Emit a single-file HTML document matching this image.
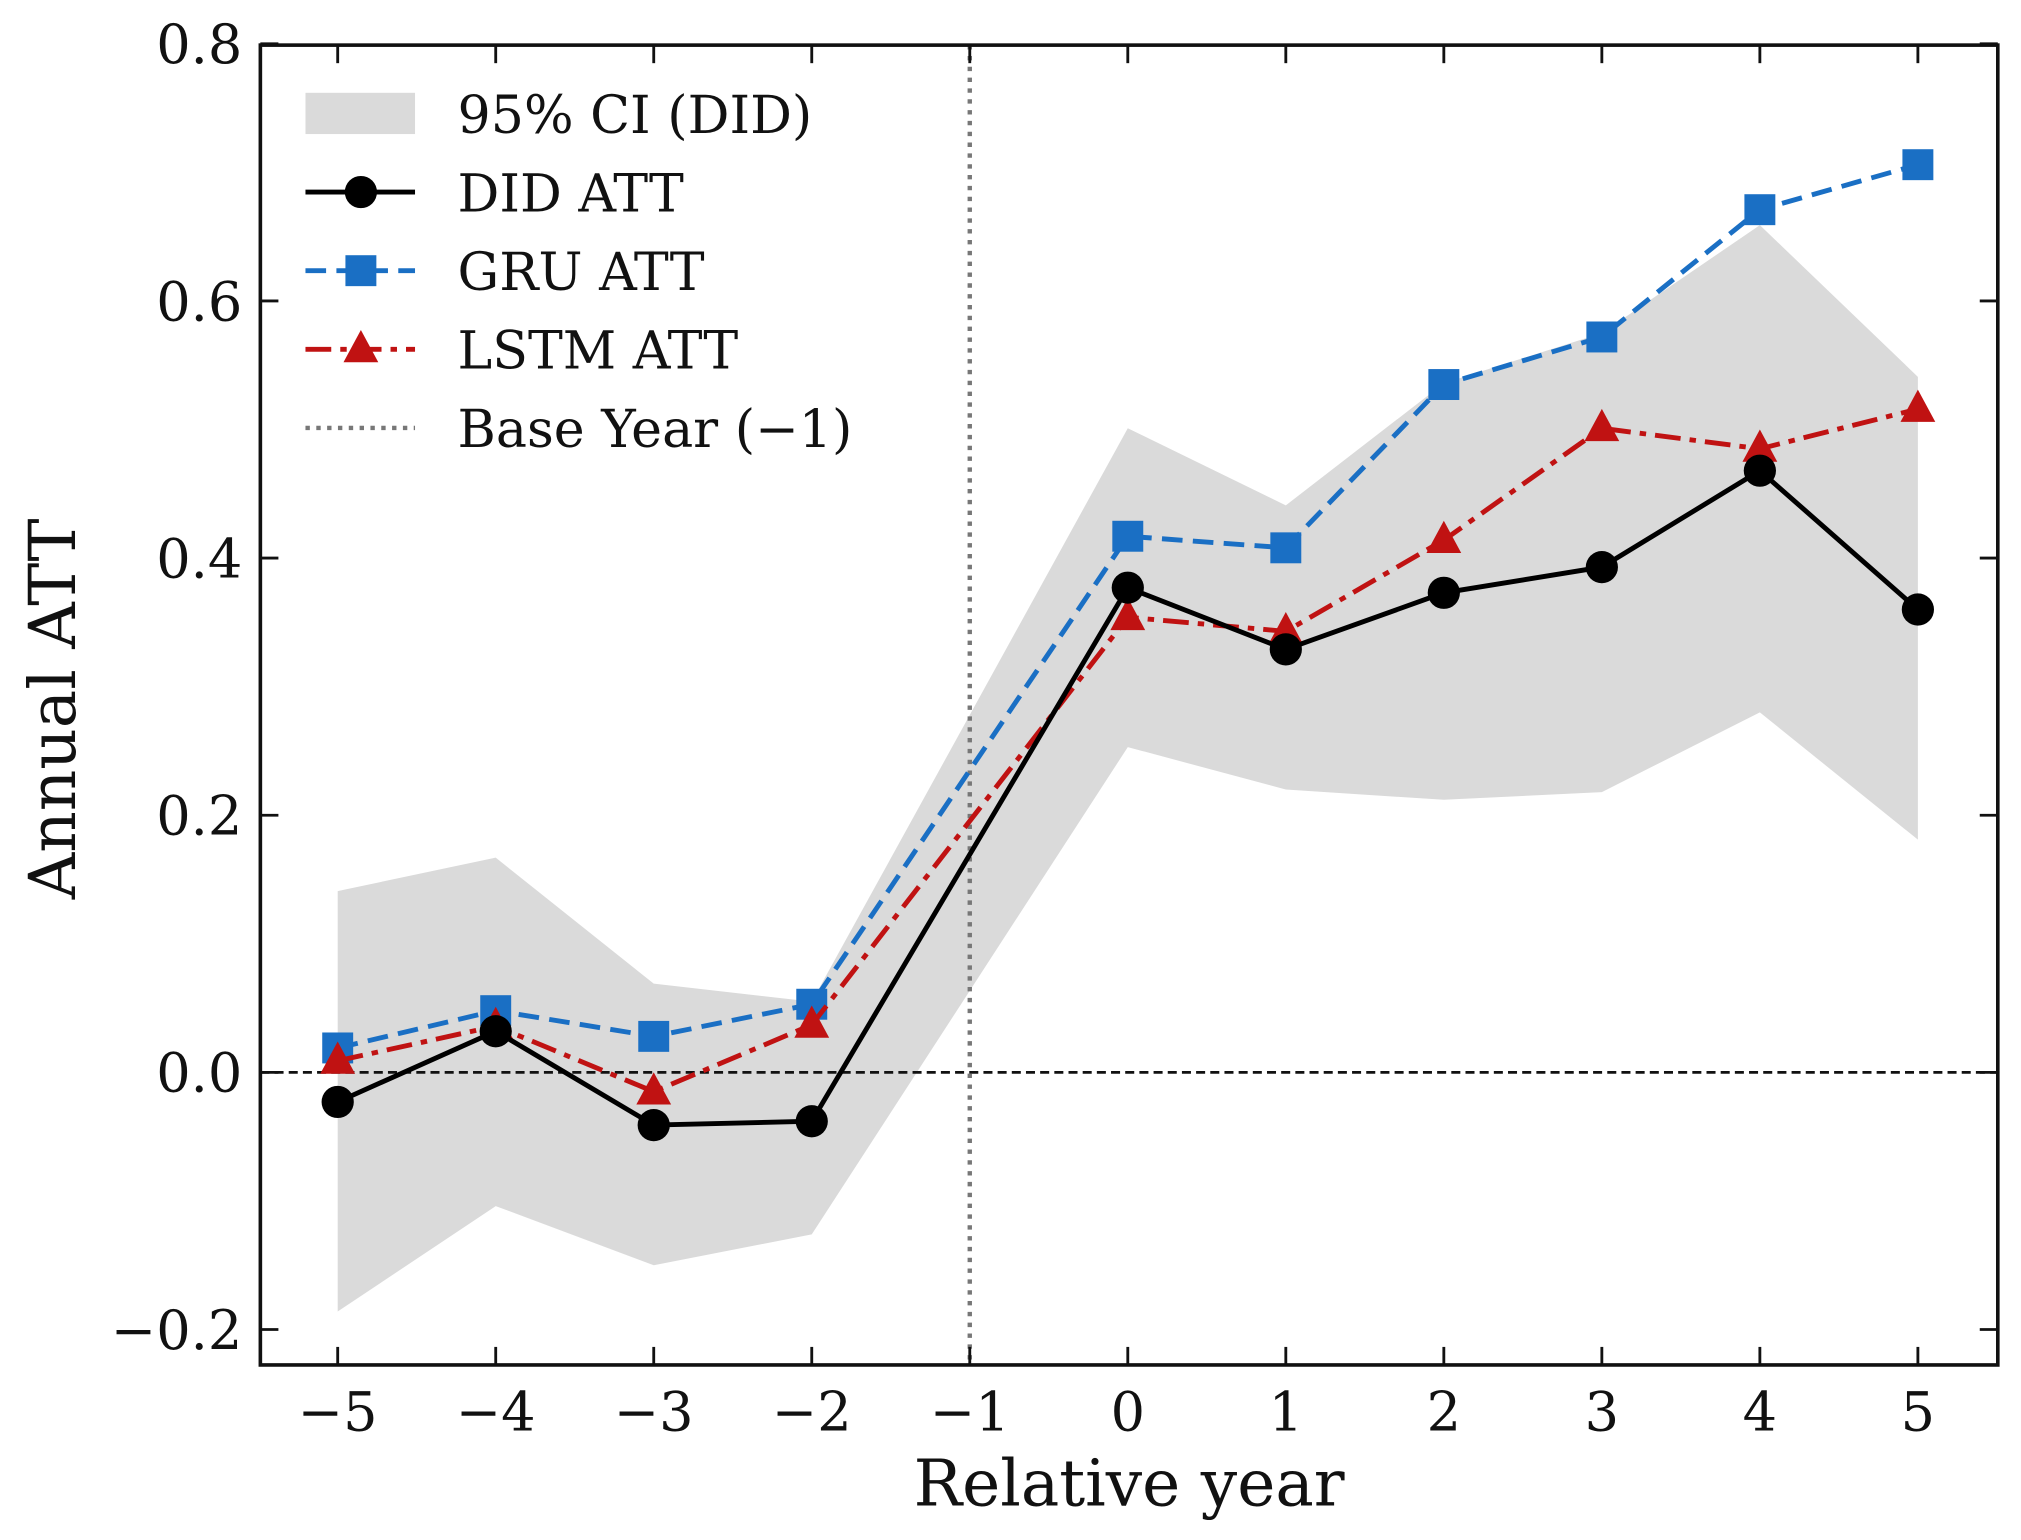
<!DOCTYPE html>
<html><head><meta charset="utf-8"><style>
html,body{margin:0;padding:0;background:#fff;}
svg{display:block;font-family:"DejaVu Serif","Liberation Serif",serif;}
</style></head><body>
<svg id="chart" width="2021" height="1540" viewBox="0 0 1568 1194.8" xmlns="http://www.w3.org/2000/svg">
<g id="plot"></g>
</svg>
<script>
const years = [-5,-4,-3,-2,0,1,2,3,4,5];
const didAtt = [-0.023,0.032,-0.041,-0.038,0.377,0.329,0.373,0.393,0.468,0.360];
const gruAtt = [0.019,0.048,0.028,0.053,0.417,0.408,0.535,0.572,0.671,0.706];
const lstmAtt = [0.009,0.036,-0.015,0.037,0.354,0.343,0.414,0.501,0.485,0.516];
const ciUpper = [0.141,0.167,0.069,0.055,0.501,0.441,0.536,0.575,0.659,0.541];
const ciLower = [-0.186,-0.104,-0.150,-0.126,0.253,0.220,0.212,0.218,0.280,0.181];
const xTicks = [-5,-4,-3,-2,-1,0,1,2,3,4,5];
const yTicks = [-0.2,0.0,0.2,0.4,0.6,0.8];

const L=202,R=1550,T=35,B=1059;
const X=v=>262+(v+5)*122.6;
const Y=v=>832-v*997.5;
const NS="http://www.w3.org/2000/svg";
const g=document.getElementById('plot');
function mk(tag,attrs,parent){const e=document.createElementNS(NS,tag);for(const k in attrs)e.setAttribute(k,attrs[k]);(parent||g).appendChild(e);return e;}
const fmt=v=>(v<0?'\u2212':'')+Math.abs(v).toFixed(1);

let d='M'+years.map((y,i)=>X(y)+','+Y(ciUpper[i])).join('L');
for(let i=years.length-1;i>=0;i--) d+='L'+X(years[i])+','+Y(ciLower[i]);
let band=mk('path',{d:d+'Z',fill:'#dadada'});



let z=mk('line',{x1:L,x2:R,y1:Y(0),y2:Y(0),stroke:'#111','stroke-width':2.2,'stroke-dasharray':'7,4'});


let bl=mk('line',{x1:X(-1),x2:X(-1),y1:T,y2:B,stroke:'#777','stroke-width':3.4,'stroke-dasharray':'3.4,5'});



function series(vals,color,dash,marker,name){
  const pl=mk('polyline',{points:years.map((y,i)=>X(y)+','+Y(vals[i])).join(' '),fill:'none',stroke:color,'stroke-width':3.8,'stroke-dasharray':dash});
  
  
  years.forEach((y,i)=>{const m=drawMarker(marker,X(y),Y(vals[i]),color);
    
    });
}
function drawMarker(type,x,y,c){
  if(type==='o') return mk('circle',{cx:x,cy:y,r:12.5,fill:c});
  if(type==='s') return mk('rect',{x:x-12,y:y-12,width:24,height:24,fill:c});
  return mk('polygon',{points:`${x},${y-15} ${x+13.5},${y+10} ${x-13.5},${y+10}`,fill:c});
}
series(gruAtt,'#1a6fc4','16,8','s','gru-att');
series(lstmAtt,'#c01212','20,7,5,7','^','lstm-att');
series(didAtt,'#000','none','o','did-att');

let fr=mk('rect',{x:L,y:T,width:R-L,height:B-T,fill:'none',stroke:'#111','stroke-width':2.8});



xTicks.forEach(v=>{const x=X(v);
  mk('line',{x1:x,x2:x,y1:B,y2:B-14,stroke:'#111','stroke-width':2.2});
  mk('line',{x1:x,x2:x,y1:T,y2:T+14,stroke:'#111','stroke-width':2.2});
  const t=mk('text',{x:x,y:B+51,'text-anchor':'middle','font-size':42,fill:'#111'});t.textContent=fmt(v).replace('.0','');
  
  
});
yTicks.forEach(v=>{const y=Y(v);
  mk('line',{x1:L,x2:L+14,y1:y,y2:y,stroke:'#111','stroke-width':2.2});
  mk('line',{x1:R,x2:R-14,y1:y,y2:y,stroke:'#111','stroke-width':2.2});
  const t=mk('text',{x:L-14,y:y+15,'text-anchor':'end','font-size':42,fill:'#111'});t.textContent=fmt(v);
  
  
});
let xl=mk('text',{x:876,y:1168,'text-anchor':'middle','font-size':50,fill:'#111'});xl.textContent='Relative year';


let yl=mk('text',{x:0,y:0,'text-anchor':'middle','font-size':50,fill:'#111',transform:'translate(58,550) rotate(-90)'});yl.textContent='Annual ATT';



const lg=mk('g',{});


mk('rect',{x:237,y:72,width:85,height:32,fill:'#dadada'},lg);
mk('line',{x1:237,x2:322,y1:149,y2:149,stroke:'#000','stroke-width':3.8},lg);
mk('circle',{cx:280,cy:149,r:12.5,fill:'#000'},lg);
mk('line',{x1:237,x2:322,y1:210,y2:210,stroke:'#1a6fc4','stroke-width':3.8,'stroke-dasharray':'16,8'},lg);
mk('rect',{x:268,y:198,width:24,height:24,fill:'#1a6fc4'},lg);
mk('line',{x1:237,x2:322,y1:271,y2:271,stroke:'#c01212','stroke-width':3.8,'stroke-dasharray':'20,7,5,7'},lg);
mk('polygon',{points:'280,256 293.5,281 266.5,281',fill:'#c01212'},lg);
mk('line',{x1:237,x2:322,y1:332,y2:332,stroke:'#777','stroke-width':3.4,'stroke-dasharray':'3.4,5'},lg);
['95% CI (DID)','DID ATT','GRU ATT','LSTM ATT','Base Year (\u22121)'].forEach((s,i)=>{
  const t=mk('text',{x:355,y:103+i*61,'font-size':40.5,fill:'#111'},lg);t.textContent=s;
  
  
});
</script>
</body></html>
